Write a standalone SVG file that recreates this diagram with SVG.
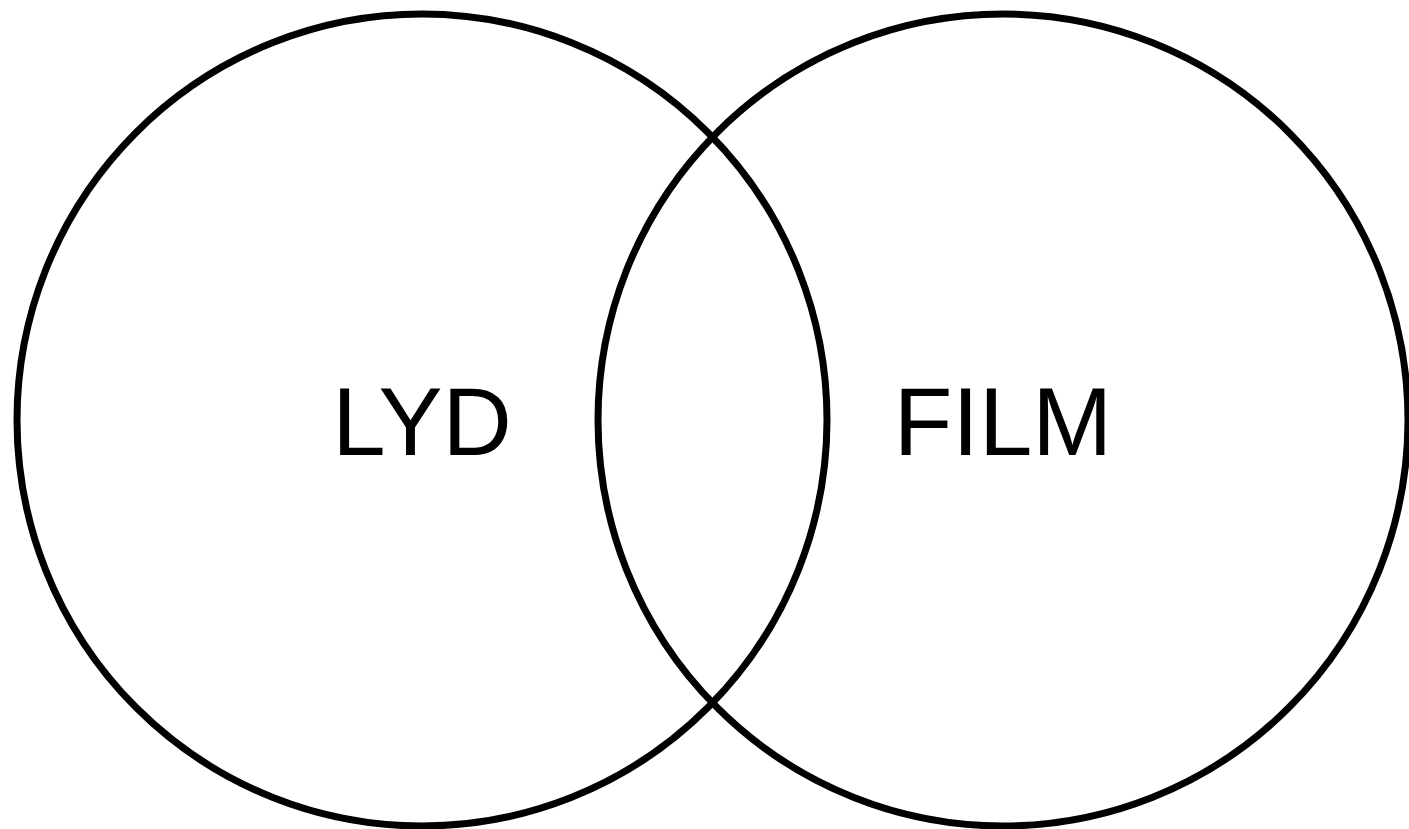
<svg xmlns="http://www.w3.org/2000/svg" width="1409" height="829" viewBox="0 0 1409 829">
<style>
.set{fill:none;stroke:#000;stroke-width:7}
.lbl{font-family:"Liberation Sans",Arial,sans-serif;font-size:96px;fill:#000;text-anchor:middle}
</style>
<rect width="1409" height="829" fill="#fff"/>
<g id="lyd">
<ellipse class="set" cx="422" cy="420" rx="405" ry="406"/>
<text class="lbl" x="422" y="455">LYD</text>
</g>
<g id="film">
<ellipse class="set" cx="1003" cy="420" rx="405" ry="406"/>
<text class="lbl" x="1003" y="455">FILM</text>
</g>
<g id="connectors"/>
</svg>
